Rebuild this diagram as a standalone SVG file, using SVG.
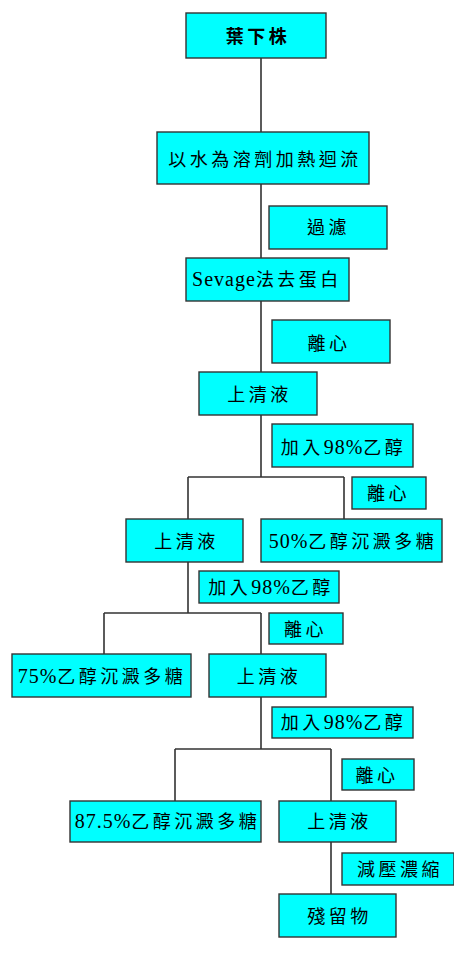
<svg xmlns="http://www.w3.org/2000/svg" width="454" height="968" viewBox="0 0 454 968">
<style>
.box{fill:#00ffff;stroke:#333;stroke-width:1.4}
.ln{fill:none;stroke:#333;stroke-width:1.6}
text{font-family:"Liberation Serif","Noto Sans CJK TC",serif;font-size:18px;letter-spacing:3.5px;text-anchor:middle;fill:#000}
.l{font-size:20px;letter-spacing:1px}
.b{font-weight:bold}
</style>
<rect width="454" height="968" fill="#fff"/>
<g id="connectors">
<path class="ln" d="M261,58V132M261,184V258M261,301V372M261,415V477M188,477H344M188,477V519M344,477V519M188,562V613M104,613H261M104,613V654M261,613V654M261,697V749M175,749H331M175,749V801M331,749V801M331,842V894"/>
</g>
<g id="n1"><rect class="box" x="186" y="13" width="140" height="45"/><text class="b" x="258" y="43">葉下株</text></g>
<g id="n2"><rect class="box" x="157" y="132" width="212" height="52"/><text x="265" y="166">以水為溶劑加熱迴流</text></g>
<g id="n3"><rect class="box" x="269" y="206" width="118" height="43"/><text x="328.5" y="234">過濾</text></g>
<g id="n4"><rect class="box" x="186" y="258" width="163" height="43"/><text x="267" y="286"><tspan class="l">Sevage</tspan>法去蛋白</text></g>
<g id="n5"><rect class="box" x="272" y="320" width="118" height="43"/><text x="329" y="349.5">離心</text></g>
<g id="n6"><rect class="box" x="199" y="372" width="118" height="43"/><text x="259.5" y="401">上清液</text></g>
<g id="n7"><rect class="box" x="272" y="424" width="141" height="43"/><text x="343.5" y="454">加入<tspan class="l">98%</tspan>乙醇</text></g>
<g id="n8"><rect class="box" x="352" y="477" width="74" height="32"/><text x="388.5" y="500">離心</text></g>
<g id="n9"><rect class="box" x="126" y="519" width="117" height="43"/><text x="186.5" y="547.5">上清液</text></g>
<g id="n10"><rect class="box" x="261" y="519" width="181" height="43"/><text x="353" y="547.5"><tspan class="l">50%</tspan>乙醇沉澱多糖</text></g>
<g id="n11"><rect class="box" x="199" y="571" width="140" height="32"/><text x="271" y="594">加入<tspan class="l">98%</tspan>乙醇</text></g>
<g id="n12"><rect class="box" x="269" y="613" width="74" height="31"/><text x="305.5" y="636">離心</text></g>
<g id="n13"><rect class="box" x="12" y="654" width="179" height="43"/><text x="102" y="682.5"><tspan class="l">75%</tspan>乙醇沉澱多糖</text></g>
<g id="n14"><rect class="box" x="209" y="654" width="117" height="43"/><text x="269" y="682.5">上清液</text></g>
<g id="n15"><rect class="box" x="272" y="707" width="141" height="31"/><text x="343.5" y="729">加入<tspan class="l">98%</tspan>乙醇</text></g>
<g id="n16"><rect class="box" x="342" y="759" width="72" height="31"/><text x="377" y="781.5">離心</text></g>
<g id="n17"><rect class="box" x="70" y="801" width="191" height="41"/><text x="167.5" y="828"><tspan class="l">87.5%</tspan>乙醇沉澱多糖</text></g>
<g id="n18"><rect class="box" x="279" y="801" width="117" height="41"/><text x="339.5" y="828">上清液</text></g>
<g id="n19"><rect class="box" x="342" y="853" width="112" height="32"/><text x="400" y="875.5">減壓濃縮</text></g>
<g id="n20"><rect class="box" x="279" y="894" width="117" height="43"/><text x="339.5" y="923">殘留物</text></g>
</svg>
